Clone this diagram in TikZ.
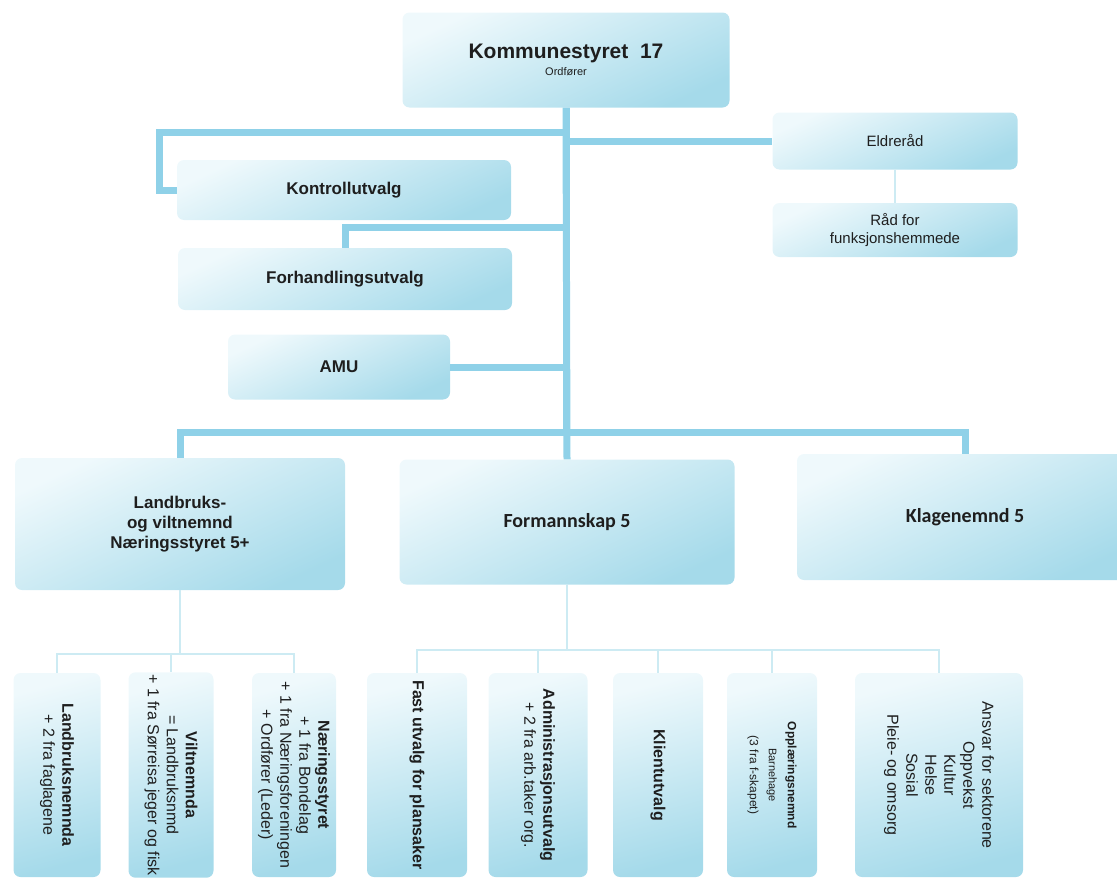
\documentclass[tikz,border=0pt]{standalone}
\usepackage{fontspec}
\setmainfont{Liberation Sans}
\newfontfamily\calibrifont{Carlito}

\definecolor{linje}{HTML}{8FD1E8}
\definecolor{tynnlinje}{HTML}{CDEBF3}
\definecolor{lys}{HTML}{EFF9FC}
\definecolor{mork}{HTML}{A5DAEA}
\definecolor{tekst}{HTML}{1E1E1E}

\begin{document}
\begin{tikzpicture}[x=1pt, y=-1pt]
        \tikzstyle{boks}=[rounded corners=7pt, top color=lys, bottom color=mork, shading angle=25, text=tekst, align=center, inner sep=2pt]
        \tikzstyle{loddrett}=[boks, rotate=-90, shading angle=15, minimum width=204pt, font=\fontsize{16}{19}\selectfont]
        \tikzstyle{hoved}=[draw=linje, line width=7pt]
        \tikzstyle{tynn}=[draw=tynnlinje, line width=2pt]

        \useasboundingbox (0,0) rectangle (1117,886);

        % topp
        \node (komm) [boks, minimum width=327pt, minimum height=95pt, font=\fontsize{21}{17}\selectfont\bfseries] at (566,60)
            {Kommunestyret\ \ 17\\{\fontsize{11}{17}\selectfont\mdseries Ordfører}};

        % utvalg under kommunestyret
        \node (kontroll) [boks, minimum width=334pt, minimum height=60pt, font=\fontsize{17}{20}\selectfont\bfseries] at (344,190) {Kontrollutvalg};
        \node (forhand)  [boks, minimum width=334pt, minimum height=62pt, font=\fontsize{17}{20}\selectfont\bfseries] at (345,279) {Forhandlingsutvalg};
        \node (amu)      [boks, minimum width=222pt, minimum height=65pt, font=\fontsize{17}{20}\selectfont\bfseries] at (339,367) {AMU};
        \node (eldre)    [boks, minimum width=245pt, minimum height=57pt, font=\fontsize{15}{18}\selectfont] at (895,141) {Eldreråd};
        \node (raad)     [boks, minimum width=245pt, minimum height=54pt, font=\fontsize{15}{18}\selectfont] at (895,230) {Råd for\\funksjonshemmede};

        % nivaa 2
        \node (land)   [boks, minimum width=330pt, minimum height=132pt, font=\fontsize{17}{20}\selectfont\bfseries] at (180,524)
            {Landbruks-\\og viltnemnd\\Næringsstyret 5+};
        \node (forman) [boks, minimum width=335pt, minimum height=125pt, font=\fontsize{20}{24}\selectfont\calibrifont\bfseries] at (567,522) {Formannskap 5};
        \node (klage)  [boks, minimum width=336pt, minimum height=126pt, font=\fontsize{20}{24}\selectfont\calibrifont\bfseries] at (965,517) {Klagenemnd 5};

        % nivaa 3
        \node (lnemnd)  [loddrett, minimum height=87pt] at (57,775) {\textbf{Landbruksnemnda}\\+ 2 fra faglagene};
        \node (vilt)    [loddrett, minimum height=85pt] at (171,775) {\textbf{Viltnemnda}\\= Landbruksnmd\\+ 1 fra Sørreisa jeger og fisk};
        \node (nstyre)  [loddrett, minimum height=84pt] at (294,775) {\textbf{Næringsstyret}\\+ 1 fra Bondelag\\+ 1 fra Næringsforeningen\\+ Ordfører (Leder)};
        \node (fast)    [loddrett, minimum height=100pt] at (417,775) {\textbf{Fast utvalg for plansaker}};
        \node (admin)   [loddrett, minimum height=99pt] at (538,775) {\textbf{Administrasjonsutvalg}\\+ 2 fra arb.taker org.};
        \node (klient)  [loddrett, minimum height=90pt] at (658,775) {\textbf{Klientutvalg}};
        \node (opplaer) [loddrett, minimum height=90pt, font=\fontsize{12}{19}\selectfont] at (772,775)
            {\textbf{Opplæringsnemnd}\\{\fontsize{11}{19}\selectfont Barnehage}\\(3 fra f-skapet)};
        \node (ansvar)  [loddrett, minimum height=168pt] at (939,775) {Ansvar for sektorene\\Oppvekst\\Kultur\\Helse\\Sosial\\Pleie- og omsorg};

        % linjer
        \draw[hoved] (komm.south) -- ++(0,325) -| (land.north);
        \draw[hoved] (komm.south) -- ++(0,325) -| (klage.north);
        \draw[hoved] (komm.south) -- (forman.north);
        \draw[hoved] (komm.south |- 0,132) -| ([xshift=-17pt]kontroll.west) -- (kontroll.west);
        \draw[hoved] (komm.south |- eldre.west) -- (eldre.west);
        \draw[hoved] (komm.south |- 0,227) -| (forhand.north);
        \draw[hoved] (amu.east) -- (komm.south |- amu.east);
        \draw[tynn, line width=1.5pt] (eldre.south) -- (raad.north);

        \foreach \barn in {lnemnd, vilt, nstyre}
            \draw[tynn] (land.south) -- (land.south |- 0,654) -| (\barn.west);
        \foreach \barn in {fast, admin, klient, opplaer, ansvar}
            \draw[tynn] (forman.south) -- (forman.south |- 0,650) -| (\barn.west);

\end{tikzpicture}
\end{document}
